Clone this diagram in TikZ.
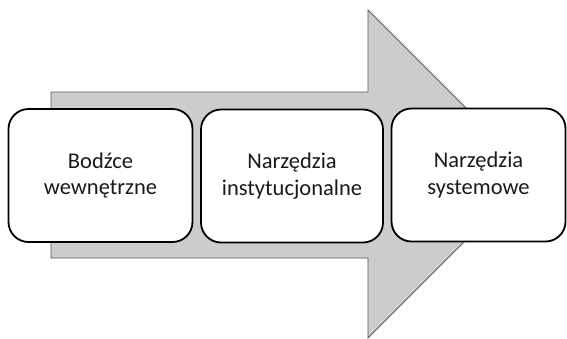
\documentclass[tikz,border=0pt]{standalone}
\usepackage{fontspec}
\setmainfont{Carlito}
\definecolor{arrowfill}{HTML}{CCCCCC}
\definecolor{arrowline}{HTML}{595959}
\definecolor{txt}{HTML}{1A1A1A}
\begin{document}
\begin{tikzpicture}[x=1pt,y=-1pt,
  stagebox/.style={draw=black, line width=1.8pt, fill=white, rounded corners=20pt,
    minimum height=133pt, align=center, text=txt, inner sep=0pt,
    font=\fontsize{22.5}{26.5}\selectfont}]
\useasboundingbox (0,0) rectangle (567,338);
\draw[fill=arrowfill, draw=arrowline, line width=0.9pt]
  (51,92) -- (368,92) -- (368,10) -- (532,174) -- (368,338) -- (368,258) -- (51,258) -- cycle;
\node[stagebox, minimum width=184pt] (b1) at (100.5,175.5) {Bodźce\\wewnętrzne};
\node[stagebox, minimum width=182pt] (b2) at (292,176) {Narzędzia\\instytucjonalne};
\node[stagebox, minimum width=174pt] (b3) at (478.5,175) {Narzędzia\\systemowe};
\end{tikzpicture}
\end{document}
